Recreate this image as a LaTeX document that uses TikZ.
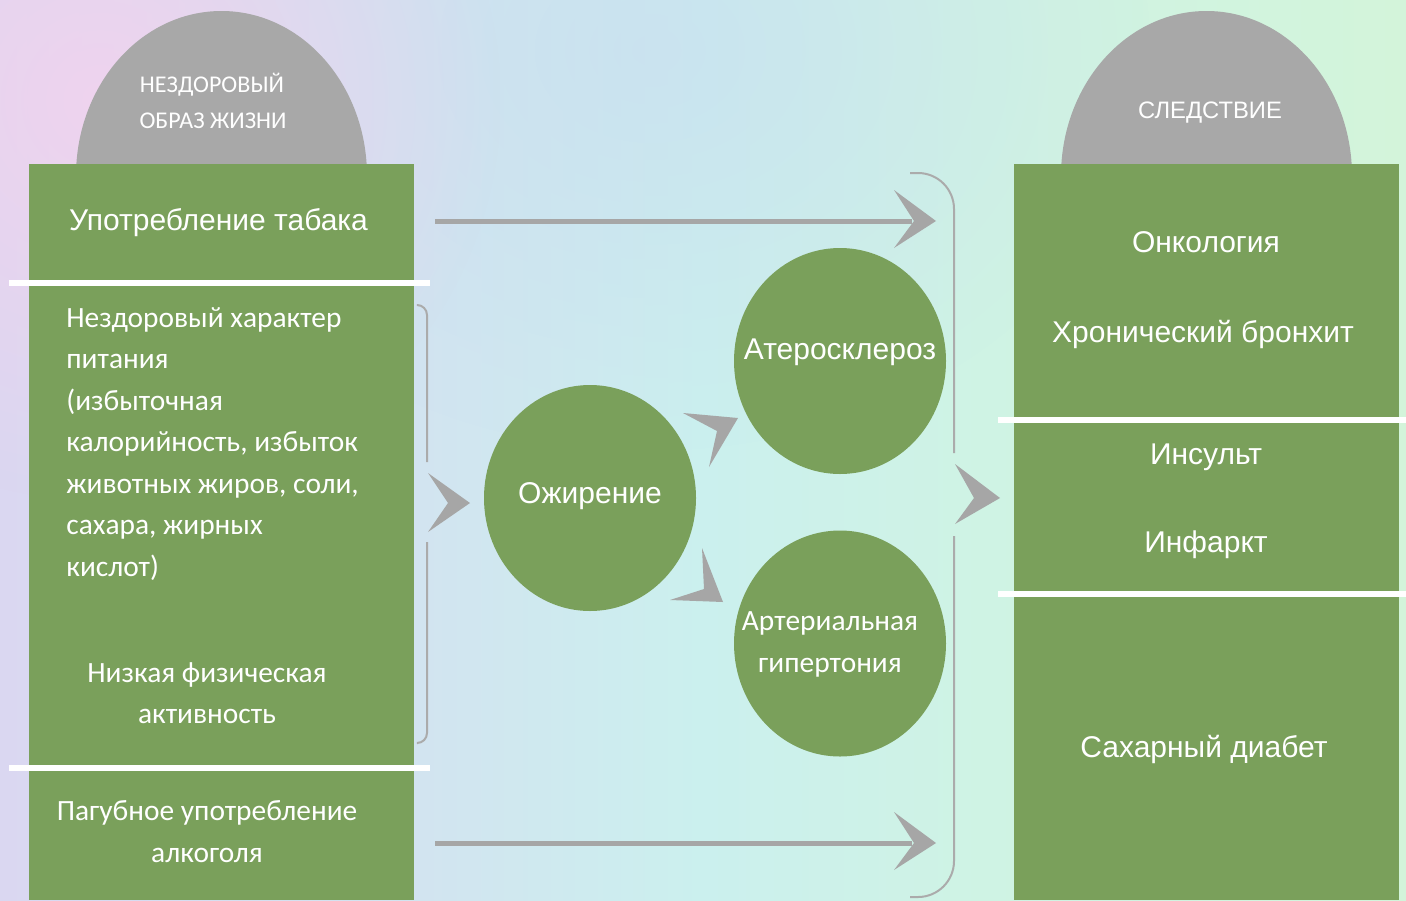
\documentclass[tikz,border=0pt]{standalone}
\usepackage{fontspec}
\setmainfont{Liberation Sans}
\newfontfamily\calfont{Carlito}
\usetikzlibrary{shapes.geometric,fadings}
\definecolor{grn}{HTML}{7AA05B}
\definecolor{domec}{HTML}{A8A8A8}
\definecolor{arr}{HTML}{A6A6A6}
\definecolor{brk}{HTML}{ABABAB}
\definecolor{bgA}{HTML}{DAD7F1}
\definecolor{bgM}{HTML}{D2E4F0}
\definecolor{bgB}{HTML}{CBF0EE}
\definecolor{bgN}{HTML}{CFF3E4}
\definecolor{bgC}{HTML}{D3F4DA}
\definecolor{bgP}{HTML}{EFD3EE}
\definecolor{bgT}{HTML}{C9DDF0}
\pgfdeclarehorizontalshading{bgsh}{100bp}{color(0bp)=(bgA); color(25bp)=(bgA); color(40bp)=(bgM); color(50bp)=(bgB); color(60bp)=(bgN); color(75bp)=(bgC); color(100bp)=(bgC)}
\tikzfading[name=radfade, inner color=transparent!0, outer color=transparent!100]
\tikzfading[name=radfadeb, inner color=transparent!35, outer color=transparent!100]
\newcommand\mychev[4]{\fill[arr] #1 -- #2 -- #3 -- #4 -- cycle;}
\begin{document}
\begin{tikzpicture}[x=0.5pt,y=-0.5pt,
  lbl/.style={anchor=base, text=white, inner sep=0pt},
  circ/.style={ellipse, fill=grn, minimum width=106pt, minimum height=113pt, inner sep=0pt},
  sepline/.style={white, line width=3pt},
  arrline/.style={arr, line width=2.5pt},
  brkline/.style={brk, line width=1pt, rounded corners=18pt},
  brkline2/.style={brk, line width=1pt, rounded corners=5pt}]
\useasboundingbox (0,0) rectangle (1406,900);
% background
\shade[shading=bgsh] (0,0) rectangle (1406,900);
\fill[bgT, path fading=radfadeb] (150,-350) rectangle (1150,450);
\fill[bgP, path fading=radfade] (-300,-300) rectangle (500,500);
% domes
\fill[domec] (221.5,176) ellipse [x radius=145.5, y radius=165];
\fill[domec] (1206.5,176) ellipse [x radius=145.5, y radius=165];
% columns
\fill[grn] (29,164) rectangle (414,900);
\fill[grn] (1014,164) rectangle (1399,900);
\draw[sepline] (9,283) -- (430,283);
\draw[sepline] (9,768) -- (430,768);
\draw[sepline] (998,420) -- (1406,420);
\draw[sepline] (998,594) -- (1406,594);
% dome texts
\node[lbl, font=\calfont\fontsize{12}{18}\selectfont] (h1) at (212,92.5) {НЕЗДОРОВЫЙ};
\node[lbl, font=\calfont\fontsize{12}{18}\selectfont] (h2) at (213,128) {ОБРАЗ ЖИЗНИ};
\node[lbl, font=\fontsize{11.9}{14}\selectfont] (h3) at (1210,118) {СЛЕДСТВИЕ};
% left texts
\node[lbl, font=\fontsize{15}{19}\selectfont] (tabak) at (218.5,230) {Употребление табака};
\node[lbl, anchor=base west, align=left, font=\calfont\fontsize{14.7}{20.75}\selectfont] (pit) at (66,576)
  {Нездоровый характер\\питания\\(избыточная\\калорийность, избыток\\животных жиров, соли,\\сахара, жирных\\кислот)};
\node[lbl, align=center, font=\calfont\fontsize{14.7}{20.5}\selectfont] (fiz) at (207,723) {Низкая физическая\\активность};
\node[lbl, align=center, font=\calfont\fontsize{14.7}{21}\selectfont] (alk) at (207,862) {Пагубное употребление\\алкоголя};
% circles
\node[circ] (ozh) at (590,498) {};
\node[circ] (ater) at (840,361) {};
\node[circ] (gip) at (840,643.5) {};
\node[lbl, font=\fontsize{15}{18}\selectfont] at (590,503) {Ожирение};
\node[lbl, font=\fontsize{15}{18}\selectfont] at (840,359) {Атеросклероз};
\node[lbl, align=center, font=\calfont\fontsize{14.7}{21}\selectfont] at (830,672) {Артериальная\\гипертония};
% right texts
\node[lbl, font=\fontsize{15}{18}\selectfont] (onk) at (1206,252) {Онкология};
\node[lbl, font=\fontsize{15}{18}\selectfont] (bron) at (1203,342) {Хронический бронхит};
\node[lbl, font=\fontsize{15}{18}\selectfont] (ins) at (1206,464) {Инсульт};
\node[lbl, font=\fontsize{15}{18}\selectfont] (inf) at (1206,552) {Инфаркт};
\node[lbl, font=\fontsize{15}{18}\selectfont] (diab) at (1204,757) {Сахарный диабет};
% brackets
\draw[brkline] (910,173) -- (954,173) -- (954,453);
\draw[brkline] (954,536) -- (954,897) -- (910,897);
\draw[brkline2] (418,305) -- (427,305) -- (427,462);
\draw[brkline2] (427,542) -- (427,743) -- (418,743);
% long arrows
\coordinate (tA) at (435,221); \coordinate (tB) at (912,221);
\coordinate (aA) at (435,843); \coordinate (aB) at (912,843);
\draw[arrline] (tA) -- (tB);
\draw[arrline] (aA) -- (aB);
\mychev{(936,221)}{(894,190)}{(914,221)}{(894,248)}
\mychev{(936,843)}{(894,812)}{(914,843)}{(894,870)}
% bracket chevrons
\mychev{(470,503)}{(428,473)}{(448,503)}{(428,532)}
\mychev{(1000,498)}{(955,464)}{(974,498)}{(955,524)}
% small chevrons from obesity
\mychev{(738,418)}{(683,413)}{(717,431)}{(709,467)}
\mychev{(723,602)}{(702,548)}{(704,589)}{(670,600)}
\end{tikzpicture}
\end{document}
